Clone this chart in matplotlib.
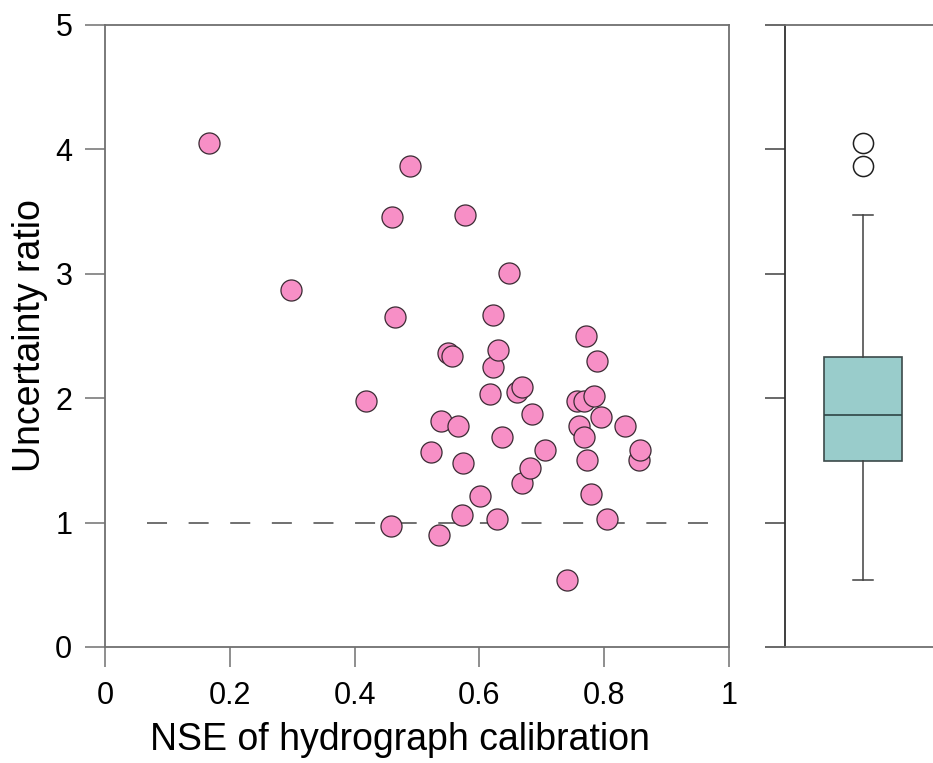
#!/usr/bin/env python3
"""
Uncertainty ratio vs NSE of hydrograph calibration, with a side boxplot
"""

import matplotlib
matplotlib.use('Agg')
import matplotlib.pyplot as plt

plt.rcParams['font.family'] = ['Liberation Sans', 'DejaVu Sans']

# NSE of calibration (x) and uncertainty ratio (y), one entry per catchment
nse = [0.166, 0.298, 0.419, 0.460, 0.464, 0.459, 0.488, 0.523, 0.538, 0.535,
       0.549, 0.556, 0.566, 0.572, 0.573, 0.577, 0.601, 0.617, 0.622, 0.622,
       0.630, 0.629, 0.636, 0.648, 0.660, 0.668, 0.668, 0.681, 0.684, 0.705,
       0.740, 0.757, 0.760, 0.768, 0.768, 0.771, 0.773, 0.779, 0.783, 0.788,
       0.795, 0.804, 0.833, 0.855, 0.857]
ratio = [4.05, 2.87, 1.98, 3.46, 2.65, 0.97, 3.87, 1.57, 1.82, 0.90,
         2.36, 2.34, 1.78, 1.06, 1.48, 3.47, 1.21, 2.03, 2.67, 2.25,
         2.39, 1.03, 1.69, 3.01, 2.05, 2.09, 1.32, 1.44, 1.87, 1.58,
         0.54, 1.98, 1.78, 1.98, 1.69, 2.50, 1.50, 1.23, 2.02, 2.30,
         1.85, 1.03, 1.78, 1.50, 1.58]

# boxplot summary of the ratios
box_q1, box_med, box_q3 = 1.495, 1.865, 2.33
box_whislo, box_whishi = 0.54, 3.47
box_fliers = [3.87, 4.05]

x_ticks = [0, 0.2, 0.4, 0.6, 0.8, 1]
x_ticklabels = ['0', '0.2', '0.4', '0.6', '0.8', '1']
y_ticks = [0, 1, 2, 3, 4, 5]

fig = plt.figure(figsize=(9.33, 7.63), dpi=100)
ax = fig.add_axes([105 / 933, 116 / 763, 624 / 933, 622 / 763])
axb = fig.add_axes([785 / 933, 116 / 763, 156 / 933, 622 / 763])

spine_grey = '#707070'

# scatter panel
ax.axhline(1, xmin=0.067, xmax=0.968, color=spine_grey, lw=1.4,
           dashes=(10.3, 11.1), zorder=1)
ax.scatter(nse, ratio, s=230, facecolor='#f78fc6', edgecolor='#3a2a33',
           linewidth=0.9, zorder=3)

ax.set_xlim(0, 1)
ax.set_ylim(0, 5)
ax.set_xticks(x_ticks)
ax.set_xticklabels(x_ticklabels)
ax.set_yticks(y_ticks)
ax.tick_params(axis='both', direction='out', length=14.5, width=1.1,
               color=spine_grey, labelsize=22, pad=9)
ax.tick_params(axis='x', pad=10)
for sp in ax.spines.values():
    sp.set_color(spine_grey)
    sp.set_linewidth(1.3)

ax.set_xlabel('NSE of hydrograph calibration', fontsize=27)
ax.xaxis.set_label_coords(0.473, -0.12)
ax.set_ylabel('Uncertainty ratio', fontsize=27)
ax.yaxis.set_label_coords(-0.092, 0.5)

# boxplot panel
stats = [dict(med=box_med, q1=box_q1, q3=box_q3,
              whislo=box_whislo, whishi=box_whishi, fliers=box_fliers)]
axb.bxp(stats, positions=[1], widths=0.5, patch_artist=True,
        boxprops=dict(facecolor='#99cccb', edgecolor='#3c4a4a', linewidth=1.2),
        medianprops=dict(color='#2f4545', linewidth=1.2),
        whiskerprops=dict(color='#404040', linewidth=1.1),
        capprops=dict(color='#404040', linewidth=1.1),
        capwidths=0.13,
        flierprops=dict(marker='o', markersize=14.5, markerfacecolor='white',
                        markeredgecolor='#202020', markeredgewidth=1.1))
axb.set_xlim(0.5, 1.5)
axb.set_ylim(0, 5)
axb.set_yticks(y_ticks)
axb.set_yticklabels([])
axb.set_xticks([])
axb.tick_params(axis='y', direction='out', length=14.5, width=1.1,
                color='#404040')
axb.spines['left'].set_color('#303030')
axb.spines['top'].set_color(spine_grey)
axb.spines['bottom'].set_color(spine_grey)
for sp in axb.spines.values():
    sp.set_linewidth(1.3)
axb.spines['right'].set_visible(False)

fig.savefig('out.png', dpi=100)
